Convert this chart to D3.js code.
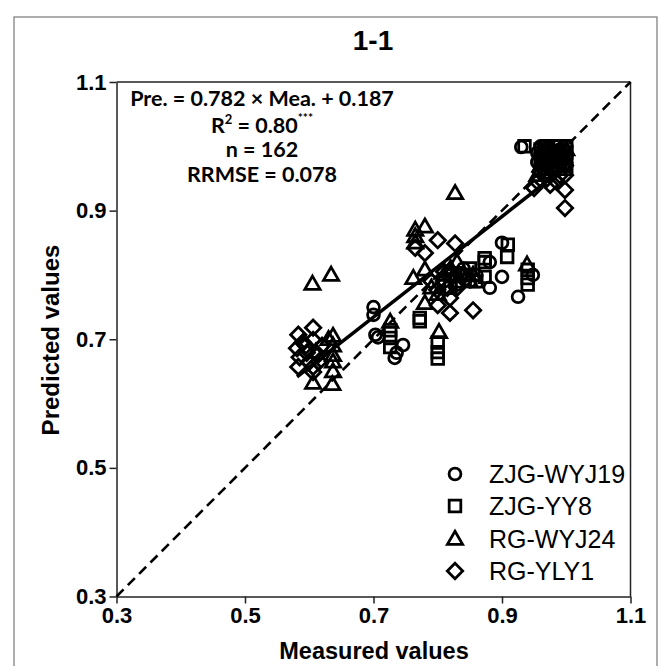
<!DOCTYPE html>
<html><head><meta charset="utf-8">
<script src="https://cdn.jsdelivr.net/npm/d3@7"></script>
<style>body{margin:0;background:#fff}svg{display:block}</style>
</head><body>
<script>
// ---- data ----
const seriesNames = ["ZJG-WYJ19","ZJG-YY8","RG-WYJ24","RG-YLY1"];
const tickValues = [0.3,0.5,0.7,0.9,1.1];
const slope = 0.782, intercept = 0.187;
const statLines = ["Pre. = 0.782 × Mea. + 0.187","R² = 0.80***","n = 162","RRMSE = 0.078"];

const zjgWyj19 = [[0.70,0.75],[0.70,0.738],[0.703,0.707],[0.707,0.703],[0.736,0.679],[0.733,0.671],[0.746,0.691],
 [0.90,0.85],[0.881,0.82],[0.90,0.797],[0.881,0.78],[0.948,0.80],[0.925,0.766],[0.84,0.81],[0.82,0.80],[0.85,0.79],[0.83,0.785],[0.86,0.80],[0.81,0.79],
 [0.93,0.999],[0.955,0.99],[0.96,1.0],[0.965,0.985],[0.97,0.995],[0.975,0.975],[0.98,0.99],[0.985,1.0],[0.99,0.98],[0.995,0.995],[1.0,1.0],[1.0,0.985],[0.96,0.97],[0.97,0.96],[0.98,0.97],[0.995,0.97],[0.955,0.975],[0.965,1.0],[0.99,0.995],[1.0,0.97],[0.975,0.985]];
const zjgYy8 = [[0.726,0.714],[0.726,0.702],[0.726,0.688],[0.772,0.733],[0.772,0.728],[0.80,0.695],[0.80,0.68],[0.80,0.67],
 [0.873,0.826],[0.873,0.82],[0.909,0.847],[0.908,0.828],[0.873,0.797],[0.94,0.808],[0.94,0.785],[0.94,0.795],[0.845,0.80],[0.83,0.79],[0.85,0.81],[0.82,0.78],[0.86,0.79],[0.835,0.80],
 [0.935,1.0],[0.96,0.995],[0.965,0.99],[0.97,1.0],[0.975,0.99],[0.98,1.0],[0.985,0.985],[0.99,1.0],[0.995,0.99],[1.0,1.0],[1.0,0.99],[1.0,0.98],[0.96,0.98],[0.97,0.975],[0.98,0.975],[0.99,0.975],[0.965,0.965],[1.0,0.965]];
const rgWyj24 = [[0.605,0.786],[0.634,0.80],[0.637,0.705],[0.637,0.69],[0.637,0.675],[0.637,0.665],[0.637,0.65],[0.636,0.63],[0.606,0.632],[0.61,0.68],[0.63,0.70],
 [0.726,0.727],[0.802,0.711],[0.78,0.756],[0.827,0.927],[0.765,0.870],[0.765,0.86],[0.765,0.85],[0.78,0.875],[0.762,0.795],[0.78,0.808],[0.79,0.78],[0.80,0.77],[0.81,0.80],[0.83,0.82],[0.84,0.80],[0.85,0.79],[0.939,0.816],[0.82,0.81],[0.855,0.80],
 [0.955,0.955],[0.96,0.97],[0.965,0.98],[0.97,0.965],[0.975,0.995],[0.98,0.985],[0.985,0.97],[0.99,0.99],[0.995,0.98],[1.0,0.995],[0.96,0.99]];
const rgYly1 = [[0.583,0.707],[0.606,0.718],[0.581,0.686],[0.606,0.699],[0.583,0.657],[0.606,0.657],[0.596,0.679],[0.614,0.676],[0.606,0.649],[0.59,0.695],[0.60,0.665],[0.595,0.69],[0.615,0.665],[0.585,0.672],[0.62,0.69],
 [0.80,0.854],[0.827,0.849],[0.765,0.842],[0.78,0.834],[0.799,0.777],[0.819,0.764],[0.80,0.753],[0.819,0.741],[0.855,0.745],[0.79,0.79],[0.81,0.805],[0.83,0.78],[0.845,0.795],[0.815,0.78],
 [0.998,0.932],[0.998,0.904],[0.998,0.955],[0.998,0.97],[0.955,0.945],[0.96,0.96],[0.97,0.95],[0.98,0.96],[0.99,0.955],[0.975,0.94],[0.95,0.935],[0.985,0.945]];
const seriesData = [zjgWyj19, zjgYy8, rgWyj24, rgYly1];

// ---- chart ----
const W = 670, H = 666;
const svg = d3.select("body").append("svg").attr("width", W).attr("height", H);
svg.append("rect").attr("x",14).attr("y",17).attr("width",643).attr("height",680)
  .attr("fill","none").attr("stroke","#777").attr("stroke-width",1.2);

const x = d3.scaleLinear([0.3,1.1],[116.5,630.5]);
const y = d3.scaleLinear([0.3,1.1],[596.5,82]);

const symbols = [
  d3.symbol().type(d3.symbolCircle).size(110),
  d3.symbol().type(d3.symbolSquare).size(135),
  d3.symbol().type(d3.symbolTriangle).size(100),
  d3.symbol().type(d3.symbolSquare).size(118)
];
const rotate = [0,0,0,45];
const dy = [0,0,1,0];

const axFont = "'Liberation Sans', Arial, sans-serif";
// title
svg.append("text").attr("x",373).attr("y",50).attr("text-anchor","middle")
  .attr("font-family",axFont).attr("font-weight","bold")
  .attr("font-size",28).text("1-1");

// axes
const gx = svg.append("g").attr("transform",`translate(0,${y(0.3)})`)
  .call(d3.axisBottom(x).tickValues(tickValues).tickFormat(d3.format(".1f")).tickSize(7).tickSizeOuter(0).tickPadding(4));
const gy = svg.append("g").attr("transform",`translate(${x(0.3)},0)`)
  .call(d3.axisLeft(y).tickValues(tickValues).tickFormat(d3.format(".1f")).tickSize(7).tickSizeOuter(0).tickPadding(3));
[gx,gy].forEach(g=>{
  g.selectAll("path,line").attr("stroke","#222").attr("stroke-width",1.5);
  g.selectAll("text").attr("font-family",axFont).attr("font-weight","bold").attr("font-size",22).attr("fill","#000");
});
// box top/right
svg.append("line").attr("x1",x(0.3)).attr("x2",x(1.1)).attr("y1",y(1.1)).attr("y2",y(1.1)).attr("stroke","#222").attr("stroke-width",1.5);
svg.append("line").attr("x1",x(1.1)).attr("x2",x(1.1)).attr("y1",y(1.1)).attr("y2",y(0.3)).attr("stroke","#222").attr("stroke-width",1.5);

svg.append("text").attr("x",374).attr("y",659).attr("text-anchor","middle")
  .attr("font-family",axFont).attr("font-weight","bold").attr("font-size",23.5).text("Measured values");
svg.append("text").attr("transform","translate(59,340) rotate(-90)").attr("text-anchor","middle")
  .attr("font-family",axFont).attr("font-weight","bold").attr("font-size",24).text("Predicted values");

// points
seriesData.forEach((data,i)=>{
  svg.append("g").selectAll("path").data(data).join("path")
    .attr("d", symbols[i]())
    .attr("transform", d=>`translate(${x(d[0])},${y(d[1])+dy[i]}) rotate(${rotate[i]})`)
    .attr("fill","none").attr("stroke","#000").attr("stroke-width",2.8);
});

// 1:1 line
svg.append("line").attr("x1",x(0.3)).attr("y1",y(0.3)).attr("x2",x(1.1)).attr("y2",y(1.1))
  .attr("stroke","#000").attr("stroke-width",2.6).attr("stroke-dasharray","10,6");
// regression line
const allX = seriesData.flat().map(d=>d[0]);
const [xmin,xmax] = d3.extent(allX);
svg.append("line").attr("x1",x(xmin)).attr("y1",y(slope*xmin+intercept)).attr("x2",x(xmax)).attr("y2",y(slope*xmax+intercept))
  .attr("stroke","#000").attr("stroke-width",3.5);

// stats text
const stFont = "Lato, 'Open Sans', sans-serif";
const st = svg.append("g").attr("font-family",stFont).attr("font-weight","bold").attr("font-size",21.5).attr("text-anchor","middle");
st.append("text").attr("x",262).attr("y",106).text(statLines[0]);
const r2 = st.append("text").attr("x",262).attr("y",133);
r2.append("tspan").text("R");
r2.append("tspan").attr("font-size",13).attr("dy",-9).text("2");
r2.append("tspan").attr("dy",9).text(" = 0.80");
r2.append("tspan").attr("font-size",12).attr("dy",-11).text("***");
st.append("text").attr("x",262).attr("y",157).text(statLines[2]);
st.append("text").attr("x",262).attr("y",182).text(statLines[3]);

// legend
const lg = svg.append("g");
seriesNames.forEach((name,i)=>{
  const ly = [474,506,539,571][i];
  lg.append("path").attr("d",symbols[i]()).attr("transform",`translate(455,${ly+dy[i]}) rotate(${rotate[i]})`)
    .attr("fill","none").attr("stroke","#000").attr("stroke-width",2.8);
  lg.append("text").attr("x",489).attr("y",ly+9).attr("font-family",axFont).attr("font-size",25).text(name);
});
</script>
</body></html>
